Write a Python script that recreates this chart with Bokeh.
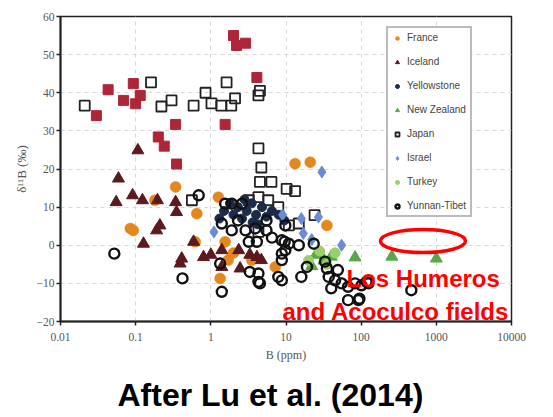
import math
from bokeh.plotting import figure
from bokeh.models import Range1d, FixedTicker, Legend, LegendItem, Label, Title
from bokeh.embed import file_html
from bokeh.resources import INLINE

# ---------------- data (B in ppm, d11B in permil) ----------------
x_ticks = [0.01, 0.1, 1, 10, 100, 1000, 10000]
x_tick_labels = ["0.01", "0.1", "1", "10", "100", "1000", "10000"]
y_ticks = [-20, -10, 0, 10, 20, 30, 40, 50, 60]

red_sq_b = [0.030, 0.043, 0.069, 0.093, 0.10, 0.115, 0.20, 0.24, 0.34, 0.35, 1.55, 2.0, 2.2, 2.9, 4.1]
red_sq_d = [34, 40.8, 38, 42.4, 37.1, 39.3, 28.4, 26, 31.7, 21.3, 31.7, 55, 52.4, 53, 44]

japan_b = [0.021, 0.16, 0.22, 0.30, 0.59, 0.85, 1.02, 1.38, 1.62, 1.87, 2.1, 4.3, 4.5, 4.3, 4.7,
           4.5, 6.4, 10.2, 13.2, 24, 14.8, 4.3, 5.8, 0.56, 3.2, 7.9, 10.9, 4.3]
japan_d = [36.6, 42.7, 36.4, 38, 36.6, 40, 37.2, 36.6, 42.7, 36.6, 38.5, 39.3, 40.5, 25.4, 20.4,
           16.6, 16.6, 14.8, 14.2, 7.9, 5.7, 12.6, 11.8, 11.8, 11.8, 10, 5.2, 3.5]

france_b = [0.093, 0.085, 0.18, 0.34, 0.65, 1.26, 0.62, 1.55, 1.7, 1.33, 7.2, 13.2, 21, 35, 3.5, 2.0]
france_d = [3.9, 4.4, 11.8, 15.3, 8.3, 12.6, 0.9, 0.9, -3.9, -8.7, -5.7, 21.4, 21.8, 5.2, -3.9, -2.0]

iceland_b = [0.059, 0.055, 0.091, 0.123, 0.195, 0.34, 0.35, 0.21, 0.19, 0.127, 0.39, 0.107, 0.59,
             0.8, 1.4, 2.35, 2.45, 4.1, 1.4, 0.41, 1.0, 4.7, 3.3]
iceland_d = [17.5, 11.3, 13.1, 11.8, 11.8, 11.3, 8.7, 5.2, 3.9, 0.4, -4.8, 24.9, 0.9,
             -3.1, -1.3, -1.3, -6.1, -3.1, -5.7, -3.5, -2.5, -3.9, -2.5]

yellowstone_b = [1.5, 1.8, 2.0, 2.3, 2.6, 3.0, 3.5, 4.0, 4.8, 5.5, 1.3, 2.8, 6.5, 8.0, 3.6, 9.5, 4.2]
yellowstone_d = [9, 11, 8, 10, 7, 9, 11, 8, 10, 7.5, 7, 12, 9, 8, 6, 6.5, 5.5]

nz_b = [83, 256, 1000, 25, 32, 40, 22]
nz_d = [-3.2, -3.0, -3.5, -2.5, -4, -3, -5.5]

israel_b = [1.1, 30, 16, 27, 55, 17, 22, 9]
israel_d = [3.5, 19.2, 7, 7.4, 0, 3.1, 1.5, 8]

turkey_b = [28, 35, 20, 45]
turkey_d = [-1.5, -5, -4, -2]

yunnan_b = [0.052, 0.42, 1.4, 4.3, 4.3, 0.69, 1.9, 2.9, 3.9, 1.33, 1.9, 2.6, 1.55, 1.4, 3.2, 4.1,
            5.5, 8.8, 9.6, 9.8, 8.8, 3.3, 7.9, 4.5, 8.8, 16, 19, 33, 35, 37, 45, 55, 67, 83, 101,
            118, 67, 92, 465, 8.8, 14.8, 23.4, 10.9, 9.8, 5.5, 49, 40, 125, 95, 2.3, 6.5]
yunnan_d = [-2.2, -8.7, -12.2, -9.6, -7.4, 13.1, 3.9, 3.9, 4.4, -4.8, 10.9, 10.9, 10.9, 5.7, 0.9, 0.9,
            6.5, 1.3, 0.9, -1.3, -3.9, -7.0, -8.3, -10, -9.2, -8.3, -5.7, -4.3, -6.1, -8.3, -9.2, -10, -10.9, -10, -10.5,
            -9.6, -14.4, -14.4, -11.8, -2.2, 0, 0.4, 0.4, 5.2, 3.9, -6.5, -11.3, -10, -14, 6.5, 2.0]

ellipse_b = [664]
ellipse_d = [1.1]

# ---------------- layout ----------------
FL, FT, FW, FH = 62, 16, 451, 305   # frame left/top/width/height in page px (reference)
XMIN, XMAX, YMIN, YMAX = 0.01, 10000, -20, 60


def to_data(cx, cy):
    """page pixel -> data coordinates (for placing annotations)"""
    lx = math.log10(XMIN) + (cx - FL) / FW * (math.log10(XMAX) - math.log10(XMIN))
    y = YMAX - (cy - FT) / FH * (YMAX - YMIN)
    return 10 ** lx, y


p = figure(frame_width=FW, frame_height=FH, x_axis_type="log",
           x_range=Range1d(XMIN, XMAX), y_range=Range1d(YMIN, YMAX),
           output_backend="svg", toolbar_location=None,
           min_border_left=60, min_border_top=16, min_border_right=38, min_border_bottom=20)
p.background_fill_color = "white"
p.border_fill_color = "white"
p.outline_line_color = "#222222"
p.outline_line_width = 1.5

for ax in (p.xaxis[0], p.yaxis[0]):
    ax.axis_line_color = "#222222"
    ax.axis_line_width = 2
    ax.major_tick_line_color = "#222222"
    ax.major_tick_line_width = 1.5
    ax.major_tick_out = 4
    ax.major_tick_in = 0
    ax.minor_tick_line_color = None
    ax.major_label_text_font = "Liberation Serif"
    ax.major_label_text_font_size = "11.5px"
    ax.major_label_text_color = "#555555"
    ax.axis_label_text_font = "Liberation Serif"
    ax.axis_label_text_font_style = "normal"
    ax.axis_label_text_color = "#555555"

p.xaxis.ticker = FixedTicker(ticks=x_ticks)
p.xaxis.major_label_overrides = {t: s for t, s in zip(x_ticks, x_tick_labels)}
p.xaxis.major_label_standoff = 7
p.xaxis.axis_label = "B (ppm)"
p.xaxis.axis_label_text_font_size = "12px"
p.xaxis.axis_label_standoff = 4
p.yaxis.ticker = FixedTicker(ticks=y_ticks)
p.yaxis.major_label_standoff = 2
p.yaxis.axis_label = "δ¹¹B (‰)"
p.yaxis.axis_label_text_font_size = "13px"
p.yaxis.axis_label_standoff = 5

p.xgrid.grid_line_color = "#d8d8d8"
p.xgrid.grid_line_dash = "4 4"
p.ygrid.grid_line_color = "#d8d8d8"
p.ygrid.grid_line_dash = "4 4"

# ---------------- series ----------------
p.scatter(red_sq_b, red_sq_d, marker="square", size=10, fill_color="#ad2638", line_color="#ad2638")
r_japan = p.scatter(japan_b, japan_d, marker="square", size=10, fill_color=None,
                    line_color="#222222", line_width=1.8)
r_france = p.scatter(france_b, france_d, marker="circle", size=11, fill_color="#e4871c",
                     line_color="#e4871c", line_width=0.5)
r_iceland = p.scatter(iceland_b, iceland_d, marker="triangle", size=12, fill_color="#5b1a1e",
                      line_color="#5b1a1e")
r_yellow = p.scatter(yellowstone_b, yellowstone_d, marker="circle", size=9, fill_color="#1c2b4a",
                     line_color="#1c2b4a")
r_israel = p.scatter(israel_b, israel_d, marker="diamond", size=12, fill_color="#6c8bd5",
                     line_color="#6c8bd5")
r_nz = p.scatter(nz_b, nz_d, marker="triangle", size=12, fill_color="#58a848", line_color="#58a848")
r_turkey = p.scatter(turkey_b, turkey_d, marker="circle", size=10, fill_color="#9bcf68",
                     line_color="#9bcf68")
r_yunnan = p.scatter(yunnan_b, yunnan_d, marker="circle", size=10, fill_color=None,
                     line_color="#111111", line_width=2.4)

# red ellipse marking the Los Humeros / Acoculco range
p.ellipse(ellipse_b, ellipse_d, width=85, height=23, width_units="screen", height_units="screen",
          fill_color=None, line_color="#ff0000", line_width=3.5)

# ---------------- legend ----------------
legend = Legend(items=[
    LegendItem(label="France", renderers=[r_france]),
    LegendItem(label="Iceland", renderers=[r_iceland]),
    LegendItem(label="Yellowstone", renderers=[r_yellow]),
    LegendItem(label="New Zealand", renderers=[r_nz]),
    LegendItem(label="Japan", renderers=[r_japan]),
    LegendItem(label="Israel", renderers=[r_israel]),
    LegendItem(label="Turkey", renderers=[r_turkey]),
    LegendItem(label="Yunnan-Tibet", renderers=[r_yunnan]),
], location=(326, 104))
legend.margin = 0
legend.padding = 4
legend.spacing = 13
legend.glyph_width = 10
legend.glyph_height = 10
legend.label_height = 10
legend.label_width = 54
legend.label_standoff = 5
legend.label_text_font = "Liberation Sans"
legend.label_text_font_size = "10px"
legend.label_text_color = "#444444"
legend.border_line_color = "#777777"
legend.border_line_width = 2
legend.background_fill_color = "white"
legend.background_fill_alpha = 1
p.add_layout(legend)

# ---------------- red annotation text (kept inside the frame) ----------------
for txt, cx, cy in [("Los Humeros", 348, 278), ("and Acoculco fields", 284, 311)]:
    lx, ly = to_data(cx, cy)
    p.add_layout(Label(x=lx, y=ly, text=txt, text_align="left", text_baseline="alphabetic",
                       text_font="Liberation Sans", text_font_style="bold",
                       text_font_size="24px", text_color="#ff0000"))

# ---------------- caption below the plot ----------------
caption = Title(text="After Lu et al. (2014)", align="left", offset=57, standoff=21,
                text_font="Liberation Sans", text_font_style="bold", text_font_size="32px",
                text_color="#000000")
p.add_layout(caption, "below")

open("out.html", "w").write(file_html(p, INLINE))
